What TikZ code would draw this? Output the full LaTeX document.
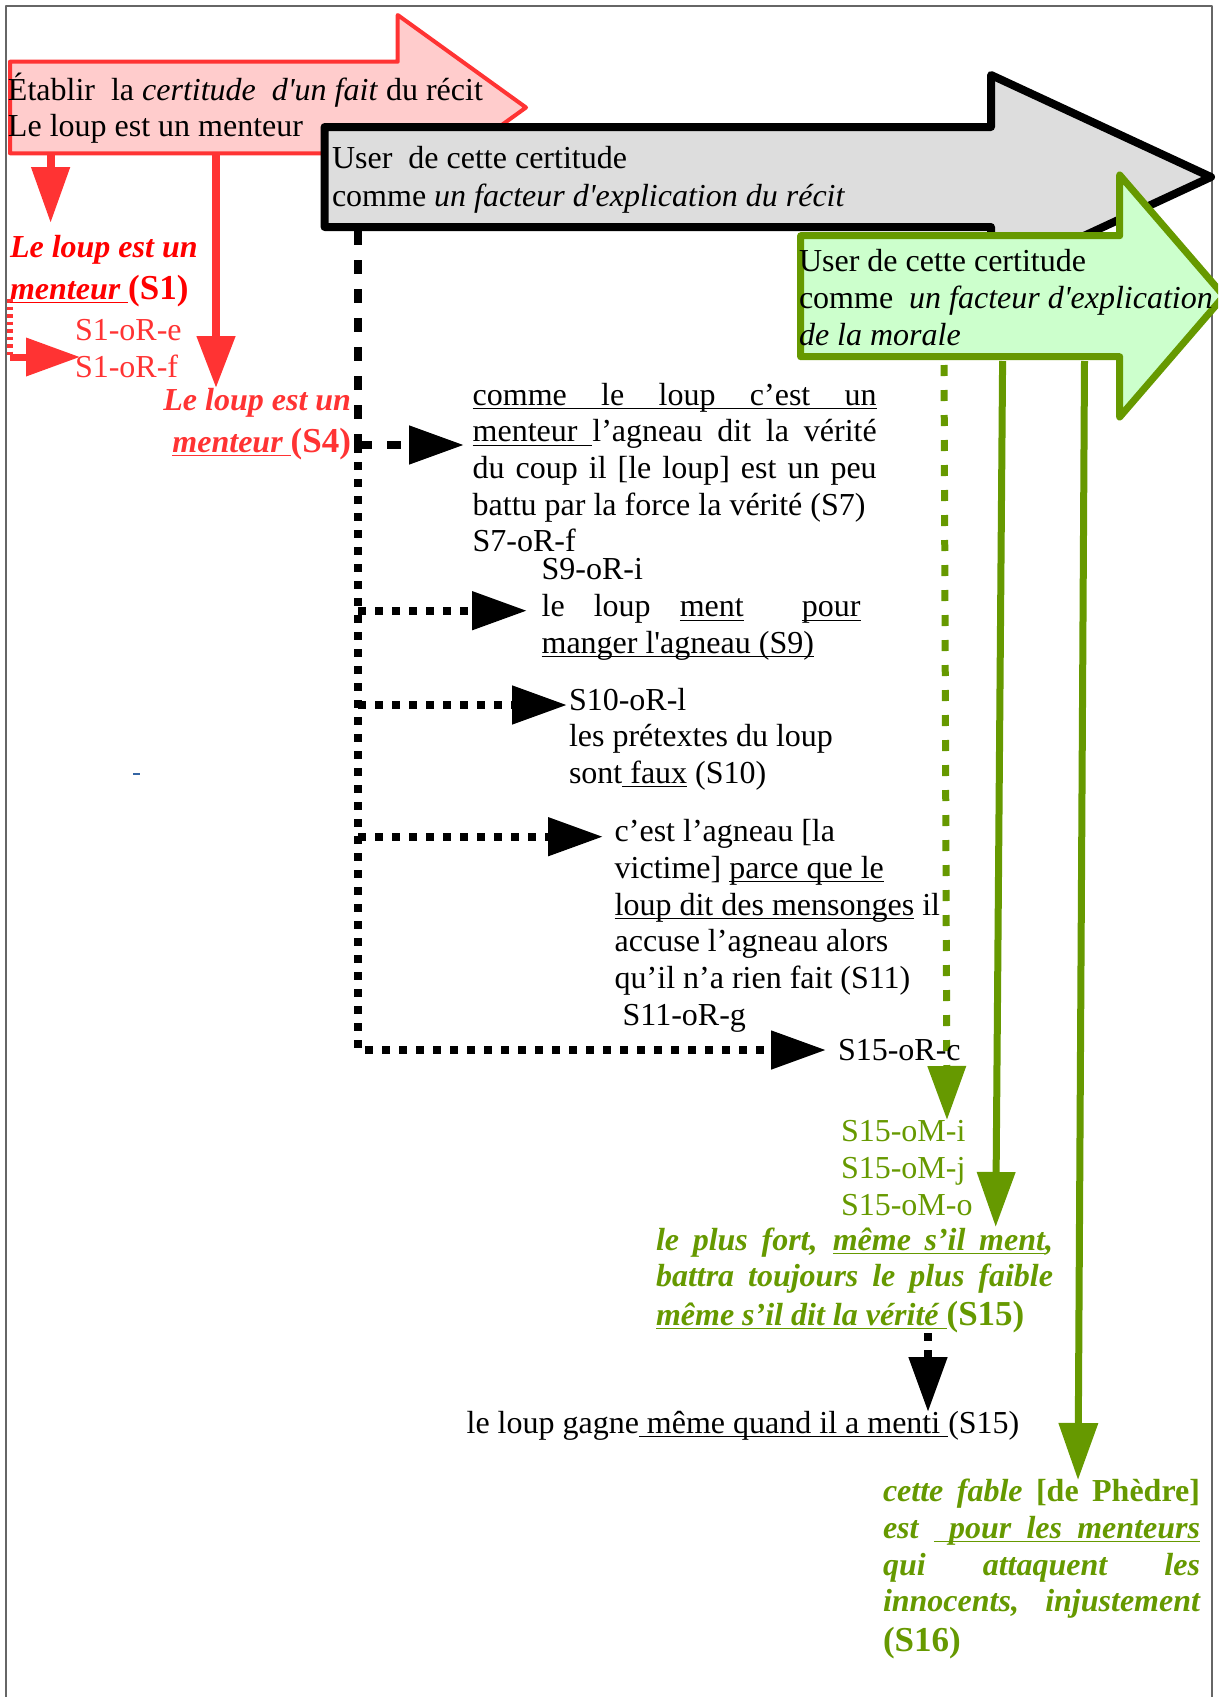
\documentclass[tikz,border=0pt]{standalone}
\usepackage{fontspec}
\setmainfont{Liberation Serif}[Ligatures=TeXOff]
\usetikzlibrary{arrows.meta}
\definecolor{rfill}{HTML}{FFCCCC}
\definecolor{rline}{HTML}{FF3333}
\definecolor{rtext}{HTML}{FF0000}
\definecolor{gfill}{HTML}{CCFFCC}
\definecolor{gline}{HTML}{669900}
\definecolor{kfill}{HTML}{DDDDDD}
\definecolor{frame}{HTML}{666666}
\definecolor{tick}{HTML}{3465A4}
\newcommand{\bigS}[1]{{\fontsize{35}{40}\selectfont\bfseries\upshape #1}}
\newcommand{\ulw}[1]{\setbox0=\hbox{#1}\rlap{\rule[-4.4pt]{\wd0}{1.6pt}}\box0\relax}
\newcommand{\uls}{\leaders\hrule height -2.8pt depth 4.4pt\hskip\fontdimen2\font plus\fontdimen3\font minus\fontdimen4\font\relax}
\begin{document}
\begin{tikzpicture}[x=1pt,y=-1pt,line join=round,
  t/.style={anchor=base west,inner sep=0pt,outer sep=0pt,font=\fontsize{32}{37}\selectfont},
  te/.style={t,anchor=base east},
  bi/.style={font=\fontsize{32}{37}\selectfont\bfseries\itshape},
  headK/.style={-{Triangle[length=55pt,width=37pt]}},
  dashK/.style={line width=8pt,dash pattern=on 14pt off 15pt},
  dotK/.style={line width=8pt,dash pattern=on 8pt off 9pt},
  redline/.style={rline,line width=8pt},
  greenline/.style={gline,line width=7pt}
]
\useasboundingbox (0,0) rectangle (1218,1697);
\clip (0,0) rectangle (1218,1697);
% page frame
\draw[frame,line width=1.5pt] (6,1700) -- (6,6) -- (1212,6) -- (1212,1700);
% big arrows
\draw[rline,fill=rfill,line width=4pt] (10,61.7) -- (397.7,61.7) -- (397.7,15) -- (526,107.5) -- (397.7,200) -- (397.7,153.3) -- (10,153.3) -- cycle;
\draw[black,fill=kfill,line width=8pt] (324.6,127) -- (991,127) -- (991,75) -- (1211,177) -- (991,279) -- (991,227) -- (324.6,227) -- cycle;
\draw[gline,fill=gfill,line width=7pt] (800.6,235.7) -- (1119.7,235.7) -- (1119.7,175) -- (1224,296) -- (1119.7,417) -- (1119.7,356.7) -- (800.6,356.7) -- cycle;

% coordinates
\coordinate (rA0) at (50.6,155);
\coordinate (rA1) at (50.6,223);
\coordinate (rB0) at (216,155);
\coordinate (rB1) at (216,388);
\coordinate (rb0) at (10,299);
\coordinate (rb1) at (10,357);
\coordinate (rb2) at (80,357);
\coordinate (kb) at (358,231);
\coordinate (v4) at (358,445);
\coordinate (t4) at (464,445);
\coordinate (v9) at (358,610.7);
\coordinate (t9) at (527,610.7);
\coordinate (v10) at (358,705);
\coordinate (t10) at (567,705);
\coordinate (v11) at (358,836.7);
\coordinate (t11) at (603,836.7);
\coordinate (vb) at (358,1050);
\coordinate (t15) at (826,1050);
\coordinate (gd0) at (944,357);
\coordinate (gd1) at (947,1120);
\coordinate (gs1a) at (1002.6,361);
\coordinate (gs1b) at (995.7,1227);
\coordinate (gs2a) at (1084.5,361);
\coordinate (gs2b) at (1078,1480);
\coordinate (bd0) at (928,1333);
\coordinate (bd1) at (928,1412);

% red connectors
\draw[redline,-{Triangle[length=56pt,width=37pt]}] (rA0) -- (rA1);
\draw[redline,-{Triangle[length=52pt,width=37pt]}] (rB0) -- (rB1);
\draw[rline,line width=6pt,dash pattern=on 3.5pt off 4pt] (rb0) -- (rb1);
\draw[rline,line width=7pt,-{Triangle[length=54pt,width=37pt]}] (rb1) -- (rb2);
% black connectors
\draw[dashK] (kb) -- (v4);
\draw[dashK,headK] (v4) -- (t4);
\draw[dotK,headK] (v4) -- (vb) -- (t15);
\draw[dotK,headK] (v9) -- (t9);
\draw[dotK,headK] (v10) -- (t10);
\draw[dotK,headK] (v11) -- (t11);
\draw[dotK,headK] (bd0) -- (bd1);
% green connectors
\draw[greenline,dash pattern=on 11pt off 14pt,dash phase=-8pt,-{Triangle[length=54pt,width=37pt]}] (gd0) -- (gd1);
\draw[greenline,-{Triangle[length=55pt,width=37pt]}] (gs1a) -- (gs1b);
\draw[greenline,-{Triangle[length=57pt,width=38pt]}] (gs2a) -- (gs2b);
% tiny blue mark
\draw[tick,line width=1.5pt] (133,774) -- (140,774);

% texts in arrows
\node[t] (r1) at (8,100) {Établir\ \ la \textit{certitude\ \ d'un fait} du récit};
\node[t] (r2) at (8,136.7) {Le loup est un menteur};
\node[t] (k1) at (332,168.5) {User\ \ de cette certitude};
\node[t] (k2) at (332,206.5) {comme \textit{un facteur d'explication du récit}};
\node[t] (g1) at (799,271.7) {User de cette certitude};
\node[t] (g2) at (799,308) {comme\ \ \textit{un facteur d'explication}};
\node[t] (g3) at (799,345) {\textit{de la morale}};

% red texts
\node[t,bi,rtext] (s1a) at (10,257) {Le loup est un};
\node[t,bi,rtext] (s1b) at (10,299) {\ulw{menteur\ }\bigS{(S1)}};
\node[t,rline] (s1e) at (75,340) {S1-oR-e};
\node[t,rline] (s1f) at (75,377) {S1-oR-f};
\node[te,bi,rline] (s4a) at (351,410) {Le loup est un};
\node[te,bi,rline] (s4b) at (351,452) {\ulw{menteur\ }\bigS{(S4)}};

% S7
\node[t] (s7a) at (472.7,405) {\makebox[404pt][s]{\ulw{comme}\uls\ulw{le}\uls\ulw{loup}\uls\ulw{c’est}\uls\ulw{un}}};
\node[t] (s7b) at (472.7,441.7) {\makebox[404pt][s]{\ulw{menteur}\uls l’agneau dit la vérité}};
\node[t] (s7c) at (472.7,478) {\makebox[404pt][s]{du coup il [le loup] est un peu}};
\node[t] (s7d) at (472.7,515) {battu par la force la vérité (S7)};
\node[t] (s7e) at (472.7,551.7) {S7-oR-f};
% S9
\node[t] (s9a) at (541.6,579) {S9-oR-i};
\node[t] (s9b) at (541.6,616.7) {\makebox[319pt][s]{le loup \ulw{ment}\ \ \ulw{pour}}};
\node[t] (s9c) at (541.6,653) {\ulw{manger l'agneau (S9)}};
% S10
\node[t] (s10a) at (569,710.7) {S10-oR-l};
\node[t] (s10b) at (569,746.7) {les prétextes du loup};
\node[t] (s10c) at (569,783) {sont\ulw{\ faux} (S10)};
% S11
\node[t] (s11a) at (614.7,841.7) {c’est l’agneau [la};
\node[t] (s11b) at (614.7,878) {victime] \ulw{parce que le}};
\node[t] (s11c) at (614.7,915) {\ulw{loup dit des mensonges} il};
\node[t] (s11d) at (614.7,951.7) {accuse l’agneau alors};
\node[t] (s11e) at (614.7,988) {qu’il n’a rien fait (S11)};
\node[t] (s11f) at (614.7,1025) {\ S11-oR-g};
\node[t] (s15c) at (838,1060) {S15-oR-c};

% green S15
\node[t,gline] (s15i) at (841,1141.7) {S15-oM-i};
\node[t,gline] (s15j) at (841,1178) {S15-oM-j};
\node[t,gline] (s15o) at (841,1215) {S15-oM-o};
\node[t,bi,gline] (s15a) at (656,1250) {\makebox[397pt][s]{le plus fort, \ulw{même}\uls\ulw{s’il}\uls\ulw{ment},}};
\node[t,bi,gline] (s15b) at (656,1286.7) {\makebox[397pt][s]{battra toujours le plus faible}};
\node[t,bi,gline] (s15d) at (656,1325) {\ulw{même s’il dit la vérité\ }\bigS{(S15)}};
\node[t] (gagne) at (466.6,1433) {le loup gagne\ulw{\ même quand il a menti\ }(S15)};

% green S16
\node[t,bi,gline] (s16a) at (883,1501.7) {\makebox[317pt][s]{cette fable {\upshape[de Phèdre]}}};
\node[t,bi,gline] (s16b) at (883,1538) {\makebox[317pt][s]{est \uls\ulw{pour}\uls\ulw{les}\uls\ulw{menteurs}}};
\node[t,bi,gline] (s16c) at (883,1575) {\makebox[317pt][s]{qui attaquent les}};
\node[t,bi,gline] (s16d) at (883,1611.7) {\makebox[317pt][s]{innocents, injustement}};
\node[t,gline] (s16e) at (883,1651.7) {\bigS{(S16)}};
\end{tikzpicture}
\end{document}
